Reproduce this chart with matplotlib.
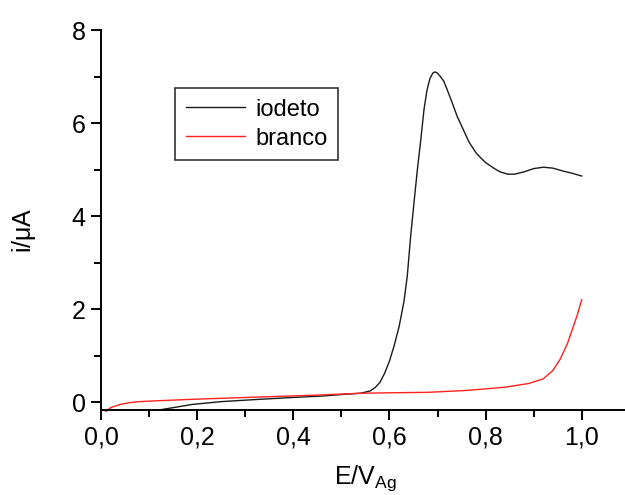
import matplotlib
matplotlib.use("Agg")
import matplotlib.pyplot as plt
from matplotlib.ticker import MultipleLocator, FuncFormatter

plt.rcParams['font.family'] = ['Liberation Sans', 'DejaVu Sans']
plt.rcParams['mathtext.fontset'] = 'custom'
plt.rcParams['mathtext.rm'] = 'Liberation Sans'
plt.rcParams['mathtext.it'] = 'Liberation Sans'

# Potential (V vs Ag) and current (uA) for the iodide voltammogram
E_iodeto = [0.12, 0.15, 0.19, 0.25, 0.33, 0.40, 0.46, 0.51, 0.54, 0.56, 0.57,
            0.58, 0.59, 0.60, 0.61, 0.62, 0.63, 0.637, 0.644, 0.651, 0.658,
            0.665, 0.672, 0.678, 0.684, 0.69, 0.695, 0.70, 0.706, 0.713, 0.72,
            0.73, 0.741, 0.754, 0.765, 0.78, 0.79, 0.80, 0.817, 0.83, 0.846,
            0.86, 0.88, 0.90, 0.92, 0.94, 0.96, 0.98, 1.00]
i_iodeto = [-0.17, -0.12, -0.05, 0.01, 0.06, 0.10, 0.13, 0.17, 0.19, 0.24, 0.31,
            0.42, 0.62, 0.88, 1.22, 1.62, 2.15, 2.70, 3.55, 4.28, 4.99,
            5.62, 6.30, 6.70, 6.95, 7.07, 7.10, 7.07, 7.00, 6.90, 6.72,
            6.45, 6.14, 5.85, 5.60, 5.36, 5.25, 5.15, 5.03, 4.95, 4.90,
            4.90, 4.95, 5.02, 5.05, 5.03, 4.97, 4.92, 4.86]

# Blank (supporting electrolyte only)
E_branco = [0.01, 0.02, 0.04, 0.06, 0.08, 0.12, 0.19, 0.33, 0.45, 0.54, 0.60,
            0.68, 0.76, 0.84, 0.89, 0.92, 0.94, 0.955, 0.97, 0.98, 0.99, 1.00]
i_branco = [-0.20, -0.12, -0.05, -0.01, 0.01, 0.03, 0.06, 0.11, 0.15, 0.19, 0.20,
            0.21, 0.25, 0.32, 0.40, 0.50, 0.68, 0.92, 1.25, 1.55, 1.85, 2.20]

labels = ["iodeto", "branco"]

fig = plt.figure(figsize=(6.25, 4.95), dpi=100)
ax = fig.add_axes([101 / 625, 1 - 410 / 495, 1 - 101 / 625, (410 - 30) / 495])

ax.plot(E_iodeto, i_iodeto, color="#1a1a1a", lw=1.0, label=labels[0])
ax.plot(E_branco, i_branco, color="#ff2020", lw=1.0, label=labels[1], clip_on=False)

ax.set_xlim(0, 1.09)
ax.set_ylim(-0.17, 8)

ax.spines['top'].set_visible(False)
ax.spines['right'].set_visible(False)
for s in ('left', 'bottom'):
    ax.spines[s].set_linewidth(1.4)

ax.xaxis.set_major_locator(MultipleLocator(0.2))
ax.xaxis.set_minor_locator(MultipleLocator(0.1))
ax.yaxis.set_major_locator(MultipleLocator(2))
ax.yaxis.set_minor_locator(MultipleLocator(1))
ax.xaxis.set_major_formatter(FuncFormatter(lambda v, p: f"{v:.1f}".replace('.', ',')))
ax.yaxis.set_major_formatter(FuncFormatter(lambda v, p: f"{v:.0f}"))

ax.tick_params(which='major', direction='out', length=7, width=1.4, labelsize=18, pad=4)
ax.tick_params(which='minor', direction='out', length=5, width=1.4)

ax.set_xlabel(r"E/V$_{\mathregular{Ag}}$", fontsize=18)
ax.set_ylabel(r"i/$\mu$A", fontsize=18)
ax.xaxis.set_label_coords((365 - 101) / (625 - 101), -(463 - 410) / 380)
ax.yaxis.set_label_coords(-(101 - 38) / 524, (410 - 230) / 380)

leg = ax.legend(loc='upper left', bbox_to_anchor=((175 - 101) / 524, (410 - 88) / 380),
                fontsize=17, frameon=True, fancybox=False, borderpad=0.45,
                handlelength=2.5, handletextpad=0.45, labelspacing=0.3,
                borderaxespad=0)
leg.get_frame().set_edgecolor('black')
leg.get_frame().set_linewidth(1.2)

fig.savefig("out.png", dpi=100)
